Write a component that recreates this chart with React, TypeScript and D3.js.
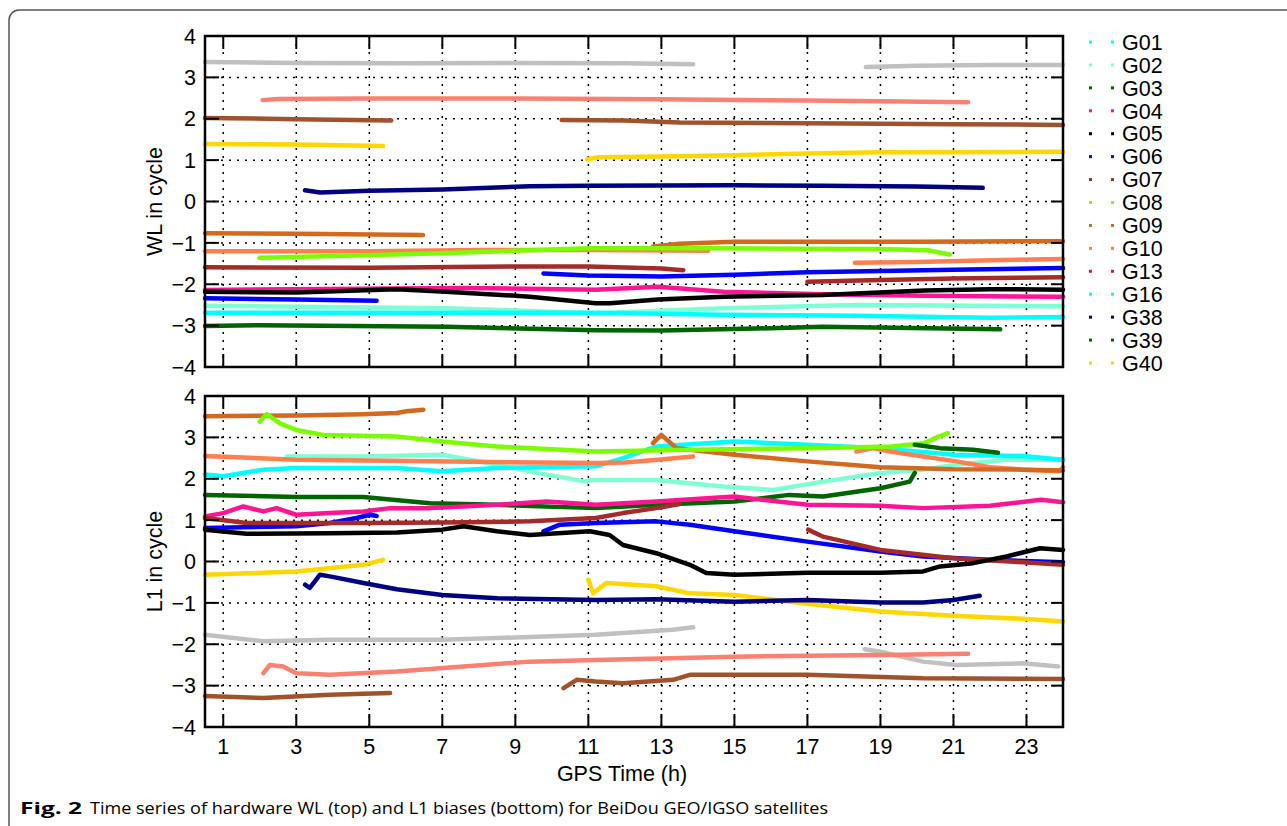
import React from "react";
import * as d3 from "d3";

type Pt = [number, number];
type Seg = Pt[];

// GPS hours shown on the x axis, integer bias levels on y
const xTicks = [1, 3, 5, 7, 9, 11, 13, 15, 17, 19, 21, 23];
const yTicks = [-4, -3, -2, -1, 0, 1, 2, 3, 4];
const legendNames = ["G01", "G02", "G03", "G04", "G05", "G06", "G07", "G08", "G09", "G10", "G13", "G16", "G38", "G39", "G40"];

// ---- WL (top panel) ----
const wlSilver: Seg[] = [
  [[0.5, 3.37], [3, 3.35], [6, 3.34], [9, 3.35], [12, 3.34], [13.87, 3.32]],
  [[18.6, 3.25], [20, 3.28], [22, 3.3], [24, 3.3]],
];
const wlSalmon: Seg[] = [
  [[2.08, 2.45], [2.5, 2.48], [5, 2.49], [9, 2.49], [13, 2.47], [17, 2.44], [19, 2.42], [21.4, 2.4]],
];
const wlSienna: Seg[] = [
  [[0.5, 2.02], [3, 1.99], [5.6, 1.96]],
  [[10.27, 1.97], [12, 1.96], [13.5, 1.91], [17, 1.89], [21, 1.87], [24, 1.85]],
];
const wlG40: Seg[] = [
  [[0.5, 1.39], [3, 1.38], [5.38, 1.34]],
  [[10.97, 1.02], [11.3, 1.07], [13, 1.09], [15, 1.12], [17, 1.16], [19, 1.19], [24, 1.2]],
];
const wlG38: Seg[] = [
  [[3.24, 0.27], [3.65, 0.22], [5, 0.26], [7, 0.29], [9.4, 0.37], [11, 0.38], [15, 0.39], [17.4, 0.38], [20, 0.36], [21.8, 0.33]],
];
const wlG09: Seg[] = [
  [[0.5, -0.77], [3, -0.78], [6.47, -0.81]],
  [[12.77, -1.09], [13.5, -1.02], [15, -0.97], [20, -0.97], [24, -0.96]],
];
const wlG10: Seg[] = [
  [[0.5, -1.2], [5, -1.2], [8, -1.17], [11, -1.17], [14.28, -1.19]],
  [[18.3, -1.48], [20, -1.46], [22, -1.42], [24, -1.39]],
];
const wlG08: Seg[] = [
  [[1.99, -1.36], [4, -1.32], [7, -1.25], [11, -1.13], [14.5, -1.13], [17, -1.14], [19, -1.15], [20.3, -1.18], [20.9, -1.28]],
];
const wlG07: Seg[] = [
  [[0.5, -1.59], [5, -1.6], [9, -1.57], [11, -1.57], [13, -1.62], [13.6, -1.66]],
  [[17.0, -1.94], [19, -1.9], [21, -1.86], [24, -1.83]],
];
const wlG06: Seg[] = [
  [[0.5, -2.34], [3, -2.37], [5.2, -2.4]],
  [[9.77, -1.74], [11, -1.79], [13, -1.81], [15, -1.77], [17, -1.71], [19, -1.68], [21, -1.65], [24, -1.61]],
];
const wlG04: Seg[] = [
  [[0.5, -2.14], [3, -2.12], [7.6, -2.09], [11.2, -2.13], [12.9, -2.06], [14.7, -2.18], [17.4, -2.24], [20.2, -2.28], [24, -2.3]],
];
const wlG05: Seg[] = [
  [[0.5, -2.18], [3, -2.2], [5.75, -2.12], [7.1, -2.18], [9.4, -2.3], [11.2, -2.46], [11.6, -2.46], [12.9, -2.37], [14.7, -2.3], [17.4, -2.26], [20.2, -2.15], [22, -2.12], [24, -2.13]],
];
const wlG02: Seg[] = [
  [[0.5, -2.52], [7.1, -2.58], [11.2, -2.7], [14.7, -2.58], [18.3, -2.5], [24, -2.53]],
];
const wlG01: Seg[] = [
  [[0.5, -2.69], [7.1, -2.69], [11.2, -2.69], [14.7, -2.74], [18.3, -2.76], [22, -2.81], [24, -2.79]],
];
const wlG39: Seg[] = [
  [[0.5, -3.01], [2, -2.99], [7.1, -3.03], [11.2, -3.11], [13, -3.12], [15.6, -3.07], [17.4, -3.03], [22.28, -3.09]],
];

// ---- L1 (bottom panel) ----
const l1G09: Seg[] = [
  [[0.5, 3.51], [3.0, 3.53], [4.84, 3.56], [5.75, 3.59], [6.02, 3.63], [6.48, 3.67]],
  [[12.77, 2.86], [13.0, 3.06], [13.41, 2.74], [13.78, 2.7], [15.0, 2.58], [17.0, 2.42], [19.0, 2.28], [21.0, 2.23], [23.0, 2.22], [24, 2.2]],
];
const l1G08: Seg[] = [
  [[2.0, 3.38], [2.19, 3.56], [2.55, 3.34], [3.0, 3.18], [3.74, 3.06], [5.75, 3.02], [7.0, 2.9], [8.5, 2.78], [11.2, 2.66], [13.8, 2.7], [17.0, 2.74], [19.3, 2.78], [20.2, 2.86], [20.6, 3.02], [20.85, 3.1]],
];
const l1G10: Seg[] = [
  [[0.5, 2.55], [3.0, 2.46], [6.7, 2.42], [11.2, 2.38], [12.0, 2.39], [12.9, 2.46], [13.87, 2.54]],
  [[18.34, 2.66], [18.8, 2.74], [19.26, 2.66], [20.17, 2.54], [21.08, 2.42], [22.0, 2.28], [22.9, 2.22], [23.9, 2.18], [24, 2.28]],
];
const l1G02: Seg[] = [
  [[2.74, 2.54], [4.84, 2.54], [7.0, 2.58], [8.5, 2.34], [9.86, 2.1], [10.95, 1.93], [11.04, 1.97], [12.86, 1.97], [14.69, 1.81], [16.06, 1.73], [17.43, 1.93], [19.0, 2.14], [20.17, 2.22], [21.08, 2.34], [22.45, 2.46], [24, 2.46]],
];
const l1G01: Seg[] = [
  [[0.5, 2.1], [1.0, 2.06], [2.1, 2.22], [3.0, 2.26], [5.75, 2.26], [7.0, 2.18], [8.5, 2.26], [11.2, 2.3], [11.95, 2.5], [12.86, 2.78], [15.0, 2.9], [17.0, 2.82], [19.0, 2.74], [21.0, 2.58], [22.9, 2.55], [24, 2.46]],
];
const l1G39: Seg[] = [
  [[0.5, 1.61], [3.0, 1.56], [4.84, 1.56], [6.66, 1.41], [8.5, 1.37], [11.2, 1.29], [12.86, 1.37], [15.0, 1.45], [16.5, 1.61], [17.43, 1.57], [19.0, 1.77], [19.8, 1.93], [19.94, 2.14]],
  [[19.94, 2.82], [20.63, 2.74], [21.54, 2.7], [22.22, 2.63]],
];
const l1G04: Seg[] = [
  [[0.5, 1.09], [1.0, 1.17], [1.55, 1.33], [2.1, 1.21], [2.46, 1.29], [3.0, 1.13], [3.92, 1.17], [4.84, 1.21], [5.57, 1.29], [6.66, 1.29], [8.5, 1.37], [9.86, 1.45], [11.2, 1.37], [12.86, 1.45], [15.0, 1.57], [17.0, 1.37], [19.0, 1.35], [20.17, 1.29], [22.0, 1.35], [23.4, 1.49], [24, 1.43]],
];
const l1G07: Seg[] = [
  [[0.5, 1.05], [1.64, 0.93], [4.84, 0.93], [7.0, 0.94], [9.4, 0.97], [11.2, 1.05], [11.95, 1.17], [12.86, 1.29], [13.5, 1.39]],
  [[17.02, 0.77], [17.43, 0.6], [19.0, 0.28], [21.0, 0.08], [22.9, -0.02], [24, -0.08]],
];
const l1G06: Seg[] = [
  [[0.5, 0.81], [3.0, 0.85], [3.92, 0.93], [4.65, 1.05], [5.02, 1.13], [5.2, 1.1]],
  [[9.77, 0.73], [10.22, 0.89], [11.2, 0.93], [12.86, 0.97], [13.78, 0.89], [15.0, 0.73], [17.0, 0.48], [19.0, 0.24], [20.17, 0.12], [22.0, 0.04], [24, -0.02]],
];
const l1G05: Seg[] = [
  [[0.5, 0.77], [1.64, 0.67], [3.92, 0.68], [5.75, 0.7], [7.0, 0.77], [7.58, 0.85], [8.49, 0.73], [9.4, 0.64], [11.04, 0.73], [11.58, 0.64], [11.95, 0.4], [12.86, 0.2], [13.78, -0.08], [14.23, -0.28], [15.0, -0.32], [17.0, -0.27], [19.0, -0.27], [20.17, -0.24], [20.63, -0.12], [21.54, -0.04], [22.45, 0.12], [23.37, 0.32], [24, 0.28]],
];
const l1G40: Seg[] = [
  [[0.5, -0.32], [3.0, -0.24], [4.84, -0.08], [5.38, 0.04]],
  [[11.0, -0.44], [11.13, -0.77], [11.49, -0.52], [12.86, -0.6], [13.78, -0.77], [15.0, -0.81], [17.0, -1.02], [19.0, -1.21], [21.0, -1.31], [23.0, -1.39], [24, -1.45]],
];
const l1G38: Seg[] = [
  [[3.24, -0.56], [3.37, -0.64], [3.65, -0.32], [3.92, -0.36], [4.84, -0.52], [5.75, -0.67], [7.0, -0.81], [8.5, -0.89], [11.2, -0.93], [12.86, -0.91], [15.0, -0.97], [17.0, -0.93], [19.0, -0.99], [20.17, -0.99], [21.0, -0.93], [21.72, -0.83]],
];
const l1Silver: Seg[] = [
  [[0.5, -1.77], [2.1, -1.93], [3.92, -1.89], [7.0, -1.89], [8.5, -1.85], [11.2, -1.77], [13.3, -1.65], [13.87, -1.59]],
  [[18.57, -2.12], [19.0, -2.18], [20.17, -2.42], [21.08, -2.5], [22.9, -2.46], [23.87, -2.54]],
];
const l1Salmon: Seg[] = [
  [[2.1, -2.7], [2.28, -2.5], [2.64, -2.54], [3.0, -2.7], [3.92, -2.74], [5.75, -2.66], [7.58, -2.54], [9.4, -2.42], [11.2, -2.38], [15.0, -2.3], [19.0, -2.26], [21.4, -2.23]],
];
const l1Sienna: Seg[] = [
  [[0.5, -3.25], [2.1, -3.3], [3.92, -3.22], [5.57, -3.18]],
  [[10.32, -3.06], [10.68, -2.86], [11.2, -2.9], [11.95, -2.94], [13.32, -2.86], [13.78, -2.74], [17.0, -2.74], [20.17, -2.82], [24, -2.84]],
];

const colors: Record<string, string> = {
  G01: "#00ffff", G02: "#7fffd4", G03: "#006400", G04: "#ff1493", G05: "#000000",
  G06: "#0000ff", G07: "#a52a2a", G08: "#7cfc00", G09: "#d2691e", G10: "#ff7f50",
  G13: "#dc143c", G16: "#00ffff", G38: "#000080", G39: "#006400", G40: "#ffd700",
  silver: "#c0c0c0", salmon: "#fa8072", sienna: "#a0522d",
};

const wlSeries: [string, Seg[]][] = [
  ["silver", wlSilver], ["salmon", wlSalmon], ["sienna", wlSienna], ["G40", wlG40], ["G38", wlG38],
  ["G09", wlG09], ["G10", wlG10], ["G08", wlG08], ["G07", wlG07], ["G06", wlG06],
  ["G02", wlG02], ["G01", wlG01], ["G04", wlG04], ["G05", wlG05], ["G39", wlG39],
];
const l1Series: [string, Seg[]][] = [
  ["silver", l1Silver], ["salmon", l1Salmon], ["sienna", l1Sienna], ["G02", l1G02], ["G01", l1G01],
  ["G10", l1G10], ["G09", l1G09], ["G08", l1G08], ["G39", l1G39], ["G04", l1G04],
  ["G06", l1G06], ["G07", l1G07], ["G05", l1G05], ["G40", l1G40], ["G38", l1G38],
];

const left = 205, right = 1063;
const panels = [
  { top: 36, bottom: 367, title: "WL in cycle", series: wlSeries },
  { top: 396, bottom: 727, title: "L1 in cycle", series: l1Series },
];
const font = "'Liberation Sans', Arial, sans-serif";
const fs = 21.5;

function Panel({ top, bottom, title, series, showX }: any) {
  const x = d3.scaleLinear().domain([0.5, 24]).range([left, right]);
  const y = d3.scaleLinear().domain([-4, 4]).range([bottom, top]);
  const line = d3.line<Pt>().x((d) => x(d[0])).y((d) => y(d[1]));
  const fmt = y.tickFormat(9, "d");
  return (
    <g>
      {xTicks.map((t) => (
        <line key={"gx" + t} x1={x(t)} x2={x(t)} y1={top} y2={bottom} stroke="#000" strokeWidth={1.5} strokeDasharray="2,6" />
      ))}
      {yTicks.filter((t) => t > -4 && t < 4).map((t) => (
        <line key={"gy" + t} x1={left} x2={right} y1={y(t)} y2={y(t)} stroke="#000" strokeWidth={1.5} strokeDasharray="2,6" />
      ))}
      {series.map(([name, segs]: [string, Seg[]]) =>
        segs.map((s, i) => (
          <path key={name + i} d={line(s) || ""} fill="none" stroke={colors[name]} strokeWidth={4.5}
            strokeLinejoin="round" strokeLinecap="round" />
        ))
      )}
      {xTicks.map((t) => (
        <g key={"tx" + t} stroke="#000" strokeWidth={2}>
          <line x1={x(t)} x2={x(t)} y1={bottom} y2={bottom - 13} />
          <line x1={x(t)} x2={x(t)} y1={top} y2={top + 13} />
        </g>
      ))}
      {yTicks.map((t) => (
        <g key={"ty" + t}>
          <line x1={left} x2={left + 14} y1={y(t)} y2={y(t)} stroke="#000" strokeWidth={2} />
          <line x1={right} x2={right - 12} y1={y(t)} y2={y(t)} stroke="#000" strokeWidth={2} />
          <text x={left - 9} y={y(t)} dy="0.36em" textAnchor="end" fontSize={fs} fontFamily={font}>{fmt(t)}</text>
        </g>
      ))}
      <rect x={left} y={top} width={right - left} height={bottom - top} fill="none" stroke="#000" strokeWidth={2.5} />
      <text transform={`translate(162,${(top + bottom) / 2}) rotate(-90)`} textAnchor="middle" fontSize={fs} fontFamily={font}>{title}</text>
      {showX && xTicks.map((t) => (
        <text key={"lx" + t} x={x(t)} y={bottom + 27} textAnchor="middle" fontSize={fs} fontFamily={font}>{t}</text>
      ))}
    </g>
  );
}

export default function App() {
  return (
    <svg width={1287} height={826} style={{ position: "absolute", left: 0, top: 0, background: "#fff" }}>
      <path d="M9,826 V20 A10,10 0 0 1 19,10 H1287" fill="none" stroke="#555" strokeWidth={1.5} />
      {panels.map((p, i) => (
        <Panel key={i} {...p} showX={i === 1} />
      ))}
      <text x={622} y={781} textAnchor="middle" fontSize={fs} fontFamily={font}>GPS Time (h)</text>
      {legendNames.map((n, i) => (
        <g key={n} transform={`translate(0,${42 + i * 22.93})`}>
          <rect x={1089} y={-1.5} width={3} height={3} fill={colors[n]} />
          <rect x={1111} y={-1.5} width={3} height={3} fill={colors[n]} />
          <text x={1122} y={0} dy="0.36em" fontSize={fs} fontFamily={font}>{n}</text>
        </g>
      ))}
      <text x={20} y={814} fontSize={16.5} fontFamily="'Open Sans', sans-serif">
        <tspan fontWeight="bold" textLength={62} lengthAdjust="spacingAndGlyphs">Fig. 2</tspan>
      </text>
      <text x={90} y={814} fontSize={16.5} fontFamily="'Open Sans', sans-serif" textLength={738} lengthAdjust="spacingAndGlyphs">
        Time series of hardware WL (top) and L1 biases (bottom) for BeiDou GEO/IGSO satellites
      </text>
    </svg>
  );
}
